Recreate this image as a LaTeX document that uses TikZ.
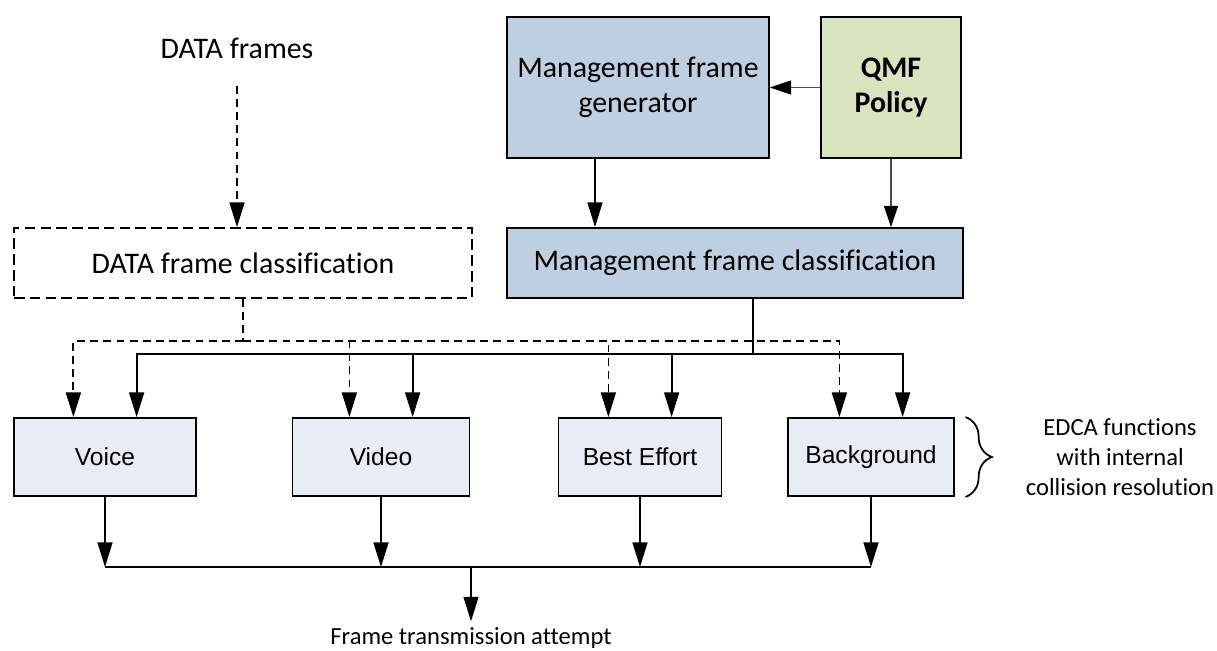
\documentclass[tikz,border=0pt]{standalone}
\usepackage{fontspec}
\setmainfont{Carlito}[Ligatures=NoCommon]
\newfontfamily\arialfont{Liberation Sans}
\usetikzlibrary{arrows.meta}
\usetikzlibrary{decorations.pathreplacing}

\definecolor{mgmtblue}{RGB}{190,207,226}
\definecolor{qmfgreen}{RGB}{215,228,189}
\definecolor{edcablue}{RGB}{232,237,245}

\tikzset{
    box/.style={draw, line width=1.1pt, minimum height=1.4cm, inner sep=0pt, font=\fontsize{17}{20}\selectfont},
    mgmt/.style={box, fill=mgmtblue},
    edca/.style={draw, line width=1.1pt, fill=edcablue, minimum height=1.56cm, font=\arialfont\fontsize{14}{17}\selectfont},
    link/.style={line width=1pt, -{Triangle[length=14pt,width=8.5pt]}},
    thinlink/.style={line width=0.6pt, draw=black!70, -{Triangle[length=12pt,width=8pt,color=black]}},
    databus/.style={line width=1pt, dash pattern=on 4.5pt off 3pt},
}

\begin{document}
\begin{tikzpicture}[x=0.02cm, y=-0.02cm]
    \useasboundingbox (0,0) rectangle (1217,651);

    \node[font=\fontsize{17}{20}\selectfont] (datain) at (237,48) {DATA frames};
    \node[box, dash pattern=on 6pt off 3pt, minimum width=9.16cm] (dataclass) at (243,263) {DATA frame classification};
    \node[mgmt, minimum width=5.24cm, minimum height=2.82cm, align=center] (mgen) at (638,87.5) {Management frame\\generator};
    \node[box, fill=qmfgreen, minimum width=2.8cm, minimum height=2.82cm, align=center, font=\bfseries\fontsize{17}{20}\selectfont] (qmf) at (891,87.5) {QMF\\Policy};
    \node[mgmt, minimum width=9.12cm] (mclass) at (735,263) {Management frame classification};

    \node[edca, minimum width=3.64cm] (voice) at (105,457) {Voice};
    \node[edca, minimum width=3.54cm] (video) at (381,457) {Video};
    \node[edca, minimum width=3.26cm] (best) at (640,457) {Best Effort};
    \node[edca, minimum width=3.32cm] (bgnd) at (871,457) {Background};

    \node[align=center, font=\fontsize{14}{17}\selectfont] (edcanote) at (1120,457) {EDCA functions\\with internal\\collision resolution};
    \node[font=\fontsize{14}{17}\selectfont] (txattempt) at (471,638) {Frame transmission attempt};

    \coordinate (gtap) at (595,0);
    \coordinate (dbus) at (243,341);
    \coordinate (mbus) at (753,354);
    \coordinate (obus) at (471,567);

    \draw[link, databus, shorten <=12pt] (datain.south) -- (datain.south |- dataclass.north);
    \draw[thinlink] (qmf.west) -- (mgen.east);
    \draw[thinlink] (qmf.south) -- (qmf.south |- mclass.north);
    \draw[link] (mgen.south -| gtap) -- (mclass.north -| gtap);

    \draw[databus] (dataclass.south) -- (dbus);
    \draw[line width=1pt] (mclass.south -| mbus) -- (mbus);
    \foreach \b in {voice,video,best,bgnd} {
        \draw[link, databus] (dbus) -| ([xshift=-18pt]\b.north);
        \draw[link] (mbus) -| ([xshift=18pt]\b.north);
        \draw[link] (\b.south) -- (\b.south |- obus);
    }
    \draw[line width=1pt] (voice.south |- obus) -- (bgnd.south |- obus);
    \draw[link] (obus) -- (txattempt.north);

    \draw[line width=1pt, decorate, decoration={brace, amplitude=15pt}] ([xshift=6pt]bgnd.north east) -- ([xshift=6pt]bgnd.south east);
\end{tikzpicture}
\end{document}
